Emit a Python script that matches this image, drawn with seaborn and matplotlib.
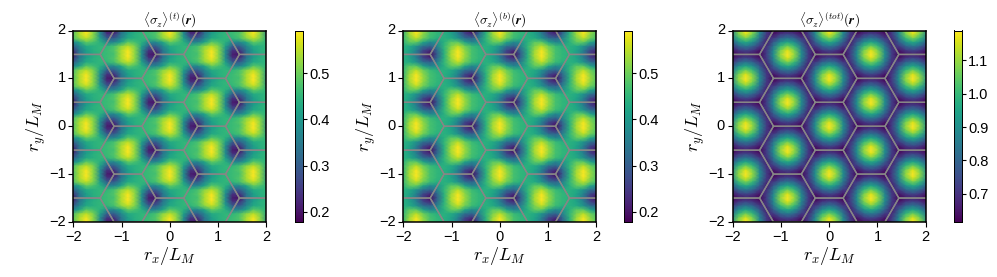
import numpy as np
import matplotlib
matplotlib.use('Agg')
import matplotlib.pyplot as plt
import seaborn as sns

# Values estimated by eye from the colours of the reference, on one rectangular
# moire cell: rows are y = 0 .. 11/12, columns are x = 0 .. 11/12 of sqrt(3).
# The pattern repeats, so this cell is tiled over the plotted range.
top_cell = [
    [.59, .52, .38, .21, .20, .33, .40, .43, .45, .46, .47, .54],
    [.585, .52, .38, .24, .24, .34, .41, .44, .45, .46, .48, .54],
    [.55, .51, .41, .30, .30, .37, .43, .44, .45, .45, .47, .52],
    [.49, .47, .44, .37, .37, .42, .49, .47, .44, .37, .37, .42],
    [.43, .44, .45, .45, .47, .52, .55, .51, .41, .30, .30, .37],
    [.41, .44, .45, .46, .48, .54, .585, .52, .38, .24, .24, .34],
    [.40, .43, .45, .46, .47, .54, .59, .52, .38, .21, .20, .33],
    [.41, .44, .45, .46, .48, .54, .585, .52, .38, .24, .24, .34],
    [.43, .44, .45, .45, .47, .52, .55, .51, .41, .30, .30, .37],
    [.49, .47, .44, .37, .37, .42, .49, .47, .44, .37, .37, .42],
    [.55, .51, .41, .30, .30, .37, .43, .44, .45, .45, .47, .52],
    [.585, .52, .38, .24, .24, .34, .41, .44, .45, .46, .48, .54],
]
bottom_cell = [
    [.59, .53, .47, .45, .44, .41, .34, .24, .19, .30, .44, .54],
    [.585, .52, .47, .45, .44, .42, .36, .27, .23, .32, .44, .53],
    [.55, .50, .46, .44, .44, .43, .39, .33, .31, .36, .45, .51],
    [.49, .42, .37, .39, .44, .49, .49, .42, .37, .39, .44, .49],
    [.39, .33, .31, .36, .45, .51, .55, .50, .46, .44, .44, .43],
    [.36, .27, .23, .32, .44, .53, .585, .52, .47, .45, .44, .42],
    [.34, .24, .19, .30, .44, .54, .59, .53, .47, .45, .44, .41],
    [.36, .27, .23, .32, .44, .53, .585, .52, .47, .45, .44, .42],
    [.39, .33, .31, .36, .45, .51, .55, .50, .46, .44, .44, .43],
    [.49, .42, .37, .39, .44, .49, .49, .42, .37, .39, .44, .49],
    [.55, .50, .46, .44, .44, .43, .39, .33, .31, .36, .45, .51],
    [.585, .52, .47, .45, .44, .42, .36, .27, .23, .32, .44, .53],
]
total_cell = [
    [1.19, 1.10, .90, .72, .62, .645, .66, .645, .62, .72, .90, 1.10],
    [1.16, 1.07, .88, .71, .65, .71, .74, .71, .65, .71, .88, 1.07],
    [1.07, 1.00, .84, .69, .71, .80, .84, .80, .71, .69, .84, 1.00],
    [.96, .90, .78, .66, .78, .90, .96, .90, .78, .66, .78, .90],
    [.84, .80, .71, .69, .84, 1.00, 1.07, 1.00, .84, .69, .71, .80],
    [.74, .71, .65, .71, .88, 1.07, 1.16, 1.07, .88, .71, .65, .71],
    [.66, .645, .62, .72, .90, 1.10, 1.19, 1.10, .90, .72, .62, .645],
    [.74, .71, .65, .71, .88, 1.07, 1.16, 1.07, .88, .71, .65, .71],
    [.84, .80, .71, .69, .84, 1.00, 1.07, 1.00, .84, .69, .71, .80],
    [.96, .90, .78, .66, .78, .90, .96, .90, .78, .66, .78, .90],
    [1.07, 1.00, .84, .69, .71, .80, .84, .80, .71, .69, .84, 1.00],
    [1.16, 1.07, .88, .71, .65, .71, .74, .71, .65, .71, .88, 1.07],
]

titles = [r'$\langle\sigma_z\rangle^{(t)}(\mathbfit{r})$',
          r'$\langle\sigma_z\rangle^{(b)}(\mathbfit{r})$',
          r'$\langle\sigma_z\rangle^{(tot)}(\mathbfit{r})$']
color_limits = [(.178, .592), (.178, .592), (.615, 1.19)]
color_ticks = [[.2, .3, .4, .5], [.2, .3, .4, .5], [.7, .8, .9, 1.0, 1.1]]
axis_ticks = [-2, -1, 0, 1, 2]

W, H = 997, 277
panel_lefts = [73.3, 403.3, 732.7]
cbar_lefts = [295.3, 624.3, 954.3]
TOP, BOTTOM = 30.5, 222
PANEL_W, CBAR_W = 193, 7.7

DX = np.sqrt(3) / 12
DY = 1 / 12
col_ids = np.arange(-15, 16)
row_ids = np.arange(24, -25, -1)


def to_col(x):
    return x / DX - col_ids[0]


def to_row(y):
    return row_ids[0] - y / DY


def pixel_rect(left, width):
    return [left / W, 1 - BOTTOM / H, width / W, (BOTTOM - TOP) / H]


def draw_hexagons(ax):
    # moire cell boundaries, one hexagon per lattice site
    angles = np.deg2rad(np.arange(0, 420, 60))
    for i in range(-4, 5):
        for j in range(-6, 7):
            cx = i * np.sqrt(3) / 2
            cy = j + (i % 2) * 0.5
            hx = cx + np.cos(angles) / np.sqrt(3)
            hy = cy + np.sin(angles) / np.sqrt(3)
            ax.plot(to_col(hx), to_row(hy), color='#868686', lw=1.0, solid_capstyle='round')


sns.set_theme(style='ticks')
plt.rcParams['font.family'] = ['Liberation Sans', 'DejaVu Sans']
plt.rcParams['mathtext.fontset'] = 'cm'
plt.rcParams['axes.unicode_minus'] = True

fig = plt.figure(figsize=(W / 100, H / 100), dpi=100)

for k, cell in enumerate([top_cell, bottom_cell, total_cell]):
    field = np.array(cell)[np.ix_(row_ids % 12, col_ids % 12)]
    ax = fig.add_axes(pixel_rect(panel_lefts[k], PANEL_W))
    cax = fig.add_axes(pixel_rect(cbar_lefts[k], CBAR_W))
    vmin, vmax = color_limits[k]
    sns.heatmap(field, ax=ax, cbar_ax=cax, cmap='viridis', vmin=vmin, vmax=vmax,
                shading='gouraud', square=False)
    draw_hexagons(ax)

    ax.set_xlim(to_col(-2), to_col(2))
    ax.set_ylim(to_row(-2), to_row(2))
    ax.set_xticks(to_col(np.array(axis_ticks)))
    ax.set_yticks(to_row(np.array(axis_ticks)))
    ax.set_xticklabels([str(t).replace('-', '\u2212') for t in axis_ticks], rotation=0)
    ax.set_yticklabels([str(t).replace('-', '\u2212') for t in axis_ticks], rotation=0)
    ax.tick_params(length=3.5, width=0.8, pad=2, labelsize=10.5, colors='black')
    for side in ax.spines.values():
        side.set_visible(True)
        side.set_color('black')
        side.set_linewidth(1.1)
    ax.set_xlabel(r'$r_x/L_M$', fontsize=13, labelpad=1, color='black')
    ax.set_ylabel(r'$r_y/L_M$', fontsize=13, labelpad=1, color='black')
    ax.set_title(titles[k], fontsize=9.5, pad=2.5, color='black')

    cax.set_yticks(color_ticks[k])
    cax.set_yticklabels(['%.1f' % t for t in color_ticks[k]])
    cax.tick_params(length=3, width=0.8, pad=1.5, labelsize=10.5, colors='black')
    for side in cax.spines.values():
        side.set_visible(True)
        side.set_color('black')
        side.set_linewidth(0.7)

fig.savefig('out.png', dpi=100)
